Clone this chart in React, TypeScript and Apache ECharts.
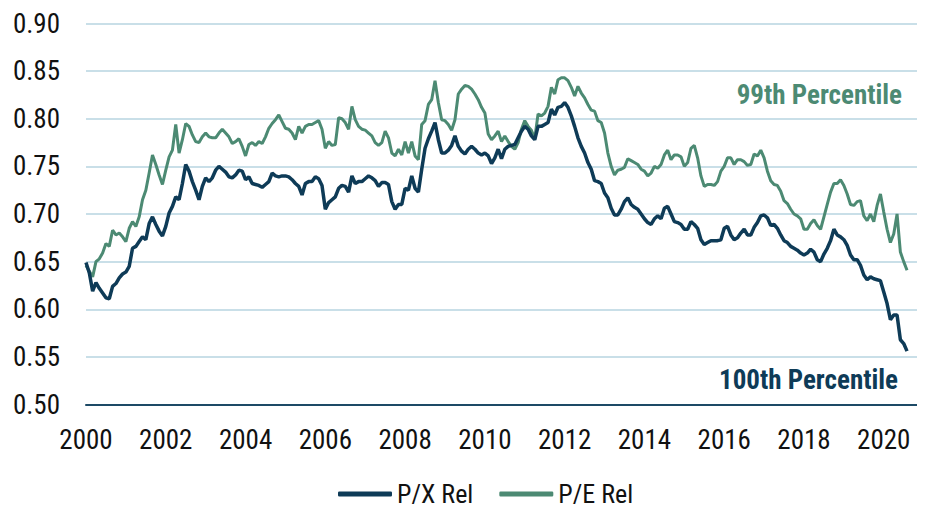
import React, { useEffect, useRef } from "react";
import * as echarts from "echarts";

// Monthly categories Jan 2000 .. Nov 2020 (data runs to Aug 2020)
const months: string[] = [];
for (let y = 2000; y <= 2020; y++) {
  for (let m = 1; m <= 12; m++) {
    if (y === 2020 && m > 11) break;
    months.push(`${y}-${m < 10 ? "0" + m : m}`);
  }
}

const yTicks = { min: 0.5, max: 0.9, step: 0.05 };

const pxRel: number[] = [
  0.649, 0.638, 0.619, 0.628, 0.622, 0.617, 0.612, 0.611, 0.624, 0.627, 0.633, 0.637,
  0.639, 0.645, 0.664, 0.666, 0.671, 0.676, 0.673, 0.690, 0.697, 0.689, 0.682, 0.677,
  0.687, 0.701, 0.708, 0.718, 0.715, 0.732, 0.752, 0.745, 0.734, 0.725, 0.715, 0.729,
  0.738, 0.734, 0.738, 0.746, 0.750, 0.747, 0.744, 0.739, 0.738, 0.741, 0.746, 0.745,
  0.736, 0.739, 0.732, 0.731, 0.730, 0.728, 0.731, 0.734, 0.743, 0.740, 0.739, 0.740,
  0.740, 0.739, 0.736, 0.732, 0.729, 0.720, 0.732, 0.734, 0.734, 0.739, 0.737, 0.730,
  0.705, 0.712, 0.715, 0.718, 0.727, 0.730, 0.729, 0.723, 0.740, 0.732, 0.734, 0.734,
  0.737, 0.740, 0.738, 0.735, 0.729, 0.733, 0.733, 0.731, 0.713, 0.705, 0.710, 0.710,
  0.727, 0.725, 0.740, 0.727, 0.723, 0.747, 0.769, 0.779, 0.787, 0.796, 0.778, 0.764,
  0.764, 0.767, 0.772, 0.782, 0.771, 0.766, 0.763, 0.768, 0.771, 0.768, 0.764, 0.762,
  0.764, 0.761, 0.753, 0.759, 0.768, 0.758, 0.768, 0.771, 0.772, 0.773, 0.780, 0.787,
  0.792, 0.789, 0.782, 0.778, 0.792, 0.792, 0.794, 0.796, 0.810, 0.804, 0.812, 0.813,
  0.817, 0.812, 0.803, 0.792, 0.780, 0.771, 0.764, 0.754, 0.747, 0.735, 0.734, 0.732,
  0.722, 0.717, 0.706, 0.699, 0.699, 0.705, 0.713, 0.717, 0.710, 0.707, 0.705, 0.700,
  0.695, 0.691, 0.689, 0.695, 0.698, 0.695, 0.706, 0.708, 0.700, 0.692, 0.691, 0.689,
  0.684, 0.684, 0.692, 0.689, 0.685, 0.673, 0.668, 0.670, 0.672, 0.672, 0.672, 0.673,
  0.685, 0.687, 0.678, 0.673, 0.675, 0.680, 0.684, 0.678, 0.678, 0.686, 0.691, 0.698,
  0.699, 0.696, 0.688, 0.689, 0.685, 0.678, 0.672, 0.670, 0.666, 0.664, 0.662, 0.659,
  0.657, 0.659, 0.663, 0.660, 0.652, 0.650, 0.658, 0.664, 0.672, 0.684, 0.678, 0.676,
  0.673, 0.667, 0.657, 0.652, 0.652, 0.646, 0.636, 0.631, 0.634, 0.632, 0.631, 0.630,
  0.618, 0.606, 0.589, 0.594, 0.594, 0.568, 0.564, 0.556,
];

const peRel: number[] = [
  0.646, 0.640, 0.634, 0.650, 0.653, 0.659, 0.669, 0.666, 0.683, 0.678, 0.680, 0.676,
  0.671, 0.685, 0.692, 0.687, 0.697, 0.715, 0.725, 0.743, 0.762, 0.752, 0.741, 0.731,
  0.746, 0.760, 0.767, 0.794, 0.764, 0.778, 0.795, 0.792, 0.783, 0.776, 0.775, 0.781,
  0.785, 0.781, 0.780, 0.780, 0.785, 0.789, 0.785, 0.781, 0.774, 0.776, 0.779, 0.771,
  0.761, 0.773, 0.775, 0.772, 0.776, 0.774, 0.781, 0.790, 0.795, 0.799, 0.804, 0.797,
  0.790, 0.789, 0.785, 0.778, 0.792, 0.785, 0.792, 0.794, 0.794, 0.796, 0.798, 0.789,
  0.769, 0.776, 0.772, 0.773, 0.801, 0.800, 0.796, 0.789, 0.813, 0.799, 0.792, 0.789,
  0.788, 0.785, 0.782, 0.775, 0.772, 0.775, 0.787, 0.780, 0.764, 0.761, 0.768, 0.762,
  0.776, 0.764, 0.776, 0.761, 0.757, 0.794, 0.798, 0.815, 0.820, 0.840, 0.817, 0.799,
  0.798, 0.794, 0.788, 0.799, 0.826, 0.831, 0.835, 0.834, 0.831, 0.826, 0.820, 0.812,
  0.806, 0.784, 0.778, 0.782, 0.787, 0.776, 0.782, 0.776, 0.771, 0.768, 0.775, 0.789,
  0.798, 0.792, 0.788, 0.779, 0.805, 0.803, 0.806, 0.813, 0.833, 0.826, 0.841, 0.843,
  0.843, 0.840, 0.833, 0.824, 0.834, 0.827, 0.822, 0.815, 0.809, 0.808, 0.798, 0.796,
  0.785, 0.764, 0.750, 0.741, 0.746, 0.747, 0.749, 0.758, 0.756, 0.754, 0.752, 0.747,
  0.745, 0.740, 0.743, 0.750, 0.748, 0.752, 0.762, 0.767, 0.757, 0.762, 0.762, 0.760,
  0.750, 0.754, 0.769, 0.772, 0.759, 0.740, 0.729, 0.731, 0.731, 0.730, 0.734, 0.745,
  0.750, 0.759, 0.759, 0.752, 0.757, 0.757, 0.755, 0.751, 0.752, 0.763, 0.761, 0.767,
  0.759, 0.745, 0.735, 0.731, 0.730, 0.724, 0.714, 0.711, 0.705, 0.700, 0.698, 0.695,
  0.684, 0.684, 0.690, 0.694, 0.688, 0.684, 0.697, 0.710, 0.723, 0.732, 0.732, 0.736,
  0.730, 0.721, 0.710, 0.709, 0.713, 0.714, 0.698, 0.693, 0.700, 0.692, 0.709, 0.721,
  0.702, 0.684, 0.670, 0.679, 0.700, 0.660, 0.650, 0.641,
];

const seriesNames = ["P/X Rel", "P/E Rel"];
const annotations = ["99th Percentile", "100th Percentile"];

const NAVY = "#0e3b57";
const GREEN = "#4c8a73";
const FONT = "'Roboto Condensed', 'Liberation Sans Narrow', 'DejaVu Sans Condensed', 'Arial Narrow', sans-serif";

export default function App() {
  const ref = useRef<HTMLDivElement>(null);
  useEffect(() => {
    if (!ref.current) return;
    const chart = echarts.init(ref.current, undefined, { renderer: "svg" });
    chart.setOption({
      animation: false,
      backgroundColor: "#ffffff",
      grid: { left: 86, right: 8, top: 23.5, bottom: 107.5, containLabel: false },
      legend: {
        left: 338,
        top: 481,
        padding: 0,
        icon: "roundRect",
        itemWidth: 54,
        itemHeight: 5,
        itemGap: 26,
        data: seriesNames,
        textStyle: { fontFamily: FONT, fontSize: 26, color: "#111111" },
      },
      xAxis: {
        type: "category",
        data: months,
        boundaryGap: false,
        axisLine: { lineStyle: { color: "#1d4a66", width: 2 } },
        axisTick: { show: false },
        axisLabel: {
          interval: (index: number) => index % 24 === 0,
          formatter: (v: string) => v.slice(0, 4),
          fontFamily: FONT,
          fontSize: 27,
          color: "#111111",
          margin: 22,
        },
        splitLine: { show: false },
      },
      yAxis: {
        type: "value",
        min: yTicks.min,
        max: yTicks.max,
        interval: yTicks.step,
        axisLine: { show: false },
        axisTick: { show: false },
        axisLabel: {
          formatter: (v: number) => v.toFixed(2),
          fontFamily: FONT,
          fontSize: 27,
          color: "#111111",
          margin: 26,
        },
        splitLine: { lineStyle: { color: "#c9dfe8", width: 2 } },
      },
      graphic: [
        {
          type: "text",
          x: 902,
          y: 95,
          style: {
            text: annotations[0],
            fill: GREEN,
            font: `bold 27px ${FONT}`,
            textAlign: "right",
            textVerticalAlign: "middle",
          },
        },
        {
          type: "text",
          x: 898,
          y: 380,
          style: {
            text: annotations[1],
            fill: NAVY,
            font: `bold 27px ${FONT}`,
            textAlign: "right",
            textVerticalAlign: "middle",
          },
        },
      ],
      series: [
        {
          name: seriesNames[1],
          type: "line",
          data: peRel,
          symbol: "none",
          lineStyle: { color: GREEN, width: 3 },
          itemStyle: { color: GREEN },
          z: 2,
        },
        {
          name: seriesNames[0],
          type: "line",
          data: pxRel,
          symbol: "none",
          lineStyle: { color: NAVY, width: 3.5 },
          itemStyle: { color: NAVY },
          z: 3,
        },
      ],
    });
    return () => chart.dispose();
  }, []);
  return <div ref={ref} style={{ width: 925, height: 512, margin: -8 }} />;
}
